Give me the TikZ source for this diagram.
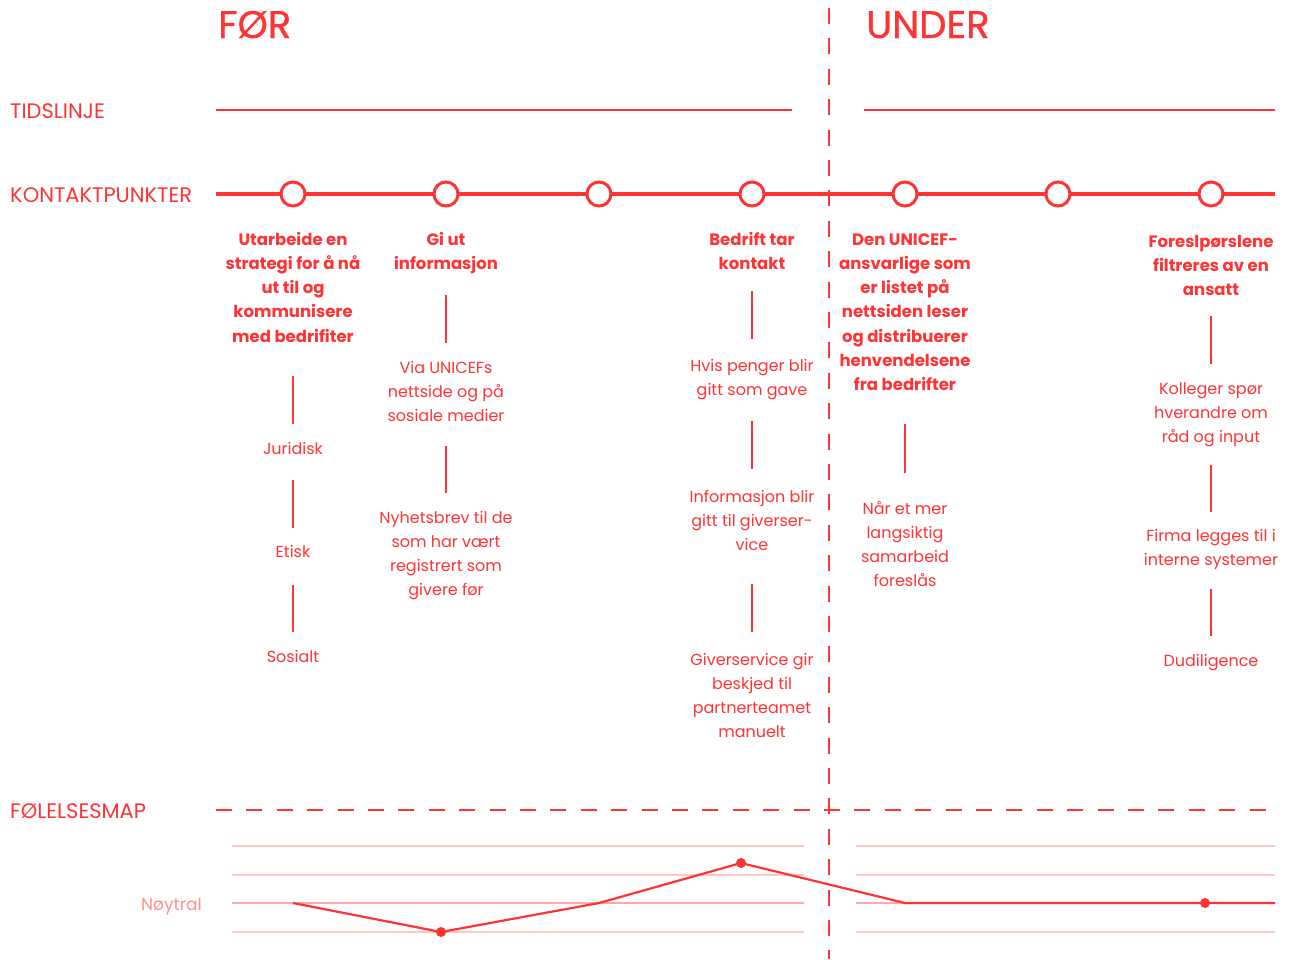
\documentclass[tikz,border=0pt]{standalone}
\usepackage{fontspec}
\setmainfont{Poppins}
\newfontfamily\titlefont[FakeBold=0.8]{Poppins}
\definecolor{ured}{HTML}{FF3333}
\definecolor{gridpink}{HTML}{FFC6C6}
\definecolor{midpink}{HTML}{FFA8A8}
\definecolor{labelpink}{HTML}{FF8E8E}
\begin{document}
\begin{tikzpicture}[x=1pt,y=-1pt,
  title/.style={anchor=base west,inner sep=0pt,text=ured,font=\titlefont\fontsize{38.5}{44}\selectfont},
  rowlabel/.style={anchor=base west,inner sep=0pt,text=ured,font=\fontsize{21}{25}\selectfont},
  head/.style={anchor=base,inner sep=0pt,align=center,text=ured,font=\fontsize{16.5}{24.3}\selectfont\bfseries},
  item/.style={anchor=base,inner sep=0pt,align=center,text=ured,font=\fontsize{16}{24.3}\selectfont},
  conn/.style={draw=ured,line width=1.6pt},
  touch/.style={circle,draw=ured,fill=white,line width=3pt,minimum size=24pt,inner sep=0pt},
  phase/.style={draw=ured,line width=1.6pt,dash pattern=on 16pt off 14.4pt},
  grid/.style={draw=gridpink,line width=1.1pt},
  mood/.style={draw=ured,line width=2.2pt,line join=round},
  dot/.style={circle,fill=ured,inner sep=0pt,minimum size=10pt}]
\useasboundingbox (0,0) rectangle (1290,959);

% phase titles and row labels
\node[title] (for) at (218,38) {FØR};
\node[title] (under) at (866,38) {UNDER};
\node[rowlabel] (tid) at (10,118) {TIDSLINJE};
\node[rowlabel] (kp) at (10,202) {KONTAKTPUNKTER};
\node[rowlabel] (fm) at (10,818) {FØLELSESMAP};

% phase divider
\coordinate (divtop) at (829,8);
\coordinate (divbot) at (829,959);
\draw[phase] (divtop) -- (divbot);

% timeline
\coordinate (tl1a) at (216,110); \coordinate (tl1b) at (792,110);
\coordinate (tl2a) at (864,110); \coordinate (tl2b) at (1275,110);
\draw[ured,line width=2.6pt] (tl1a) -- (tl1b);
\draw[ured,line width=2.6pt] (tl2a) -- (tl2b);

% touchpoint line with its stops
\coordinate (kpa) at (216,194); \coordinate (kpb) at (1275,194);
\draw[ured,line width=4pt] (kpa) -- (kpb);
\foreach \i/\x in {1/293,2/446,3/599,4/752,5/905,6/1058,7/1211}
  \node[touch] (c\i) at (\x,194) {};

% text blocks are placed by the baseline of their last line (24.3pt per line)
% column 1
\node[head] (h1) at (293,342.2) {Utarbeide en\\strategi for å nå\\ut til og\\kommunisere\\med bedrifiter};
\node[item] (a1) at (293,454) {Juridisk};
\node[item] (b1) at (293,557) {Etisk};
\node[item] (d1) at (293,662) {Sosialt};
\draw[conn] (h1.south |- 0,376) -- (a1.north |- 0,424);
\draw[conn] (a1.south |- 0,480) -- (b1.north |- 0,528);
\draw[conn] (b1.south |- 0,585) -- (d1.north |- 0,632);

% column 2
\node[head] (h2) at (446,269.3) {Gi ut\\informasjon};
\node[item] (a2) at (446,421.6) {Via UNICEFs\\nettside og på\\sosiale medier};
\node[item] (b2) at (446,595.9) {Nyhetsbrev til de\\som har vært\\registrert som\\givere før};
\draw[conn] (h2.south |- 0,295) -- (a2.north |- 0,343);
\draw[conn] (a2.south |- 0,446) -- (b2.north |- 0,493);

% column 4
\node[head] (h4) at (752,269.3) {Bedrift tar\\kontakt};
\node[item] (a4) at (752,395.3) {Hvis penger blir\\gitt som gave};
\node[item] (b4) at (752,550.6) {Informasjon blir\\gitt til giverser-\\vice};
\node[item] (d4) at (752,737.9) {Giverservice gir\\beskjed til\\partnerteamet\\manuelt};
\draw[conn] (h4.south |- 0,291) -- (a4.north |- 0,339);
\draw[conn] (a4.south |- 0,421) -- (b4.north |- 0,469);
\draw[conn] (b4.south |- 0,584) -- (d4.north |- 0,632);

% column 5
\node[head] (h5) at (905,390.8) {Den UNICEF-\\ansvarlige som\\er listet på\\nettsiden leser\\og distribuerer\\henvendelsene\\fra bedrifter};
\node[item] (a5) at (905,586.9) {Når et mer\\langsiktig\\samarbeid\\foreslås};
\draw[conn] (h5.south |- 0,424) -- (a5.north |- 0,473);

% column 7
\node[head] (h7) at (1211,295.6) {Foreslpørslene\\filtreres av en\\ansatt};
\node[item] (a7) at (1211,442.6) {Kolleger spør\\hverandre om\\råd og input};
\node[item] (b7) at (1211,565.3) {Firma legges til i\\interne systemer};
\node[item] (d7) at (1211,666) {Dudiligence};
\draw[conn] (h7.south |- 0,316) -- (a7.north |- 0,364);
\draw[conn] (a7.south |- 0,465) -- (b7.north |- 0,512);
\draw[conn] (b7.south |- 0,589) -- (d7.north |- 0,636);

% emotion map
\coordinate (fma) at (216,810); \coordinate (fmb) at (1268,810);
\draw[phase] (fma) -- (fmb);
\foreach \y in {846,875,932} {
  \draw[grid] (232,\y) -- (804,\y);
  \draw[grid] (856,\y) -- (1275,\y);
}
\draw[draw=midpink,line width=1.2pt] (232,903) -- (804,903);
\draw[draw=midpink,line width=1.2pt] (856,903) -- (1275,903);
\node[anchor=base east,inner sep=0pt,text=labelpink,font=\fontsize{17}{20}\selectfont] (noy) at (202,910) {Nøytral};

\coordinate (e1) at (293,903);
\coordinate (e2) at (441,932);
\coordinate (e3) at (599,903);
\coordinate (e4) at (741,863);
\coordinate (e5) at (905,903);
\coordinate (e6) at (1205,903);
\coordinate (e7) at (1275,903);
\draw[mood] (e1) -- (e2) -- (e3) -- (e4) -- (e5) -- (e6) -- (e7);
\node[dot] at (e2) {};
\node[dot] at (e4) {};
\node[dot] at (e6) {};
\end{tikzpicture}
\end{document}
